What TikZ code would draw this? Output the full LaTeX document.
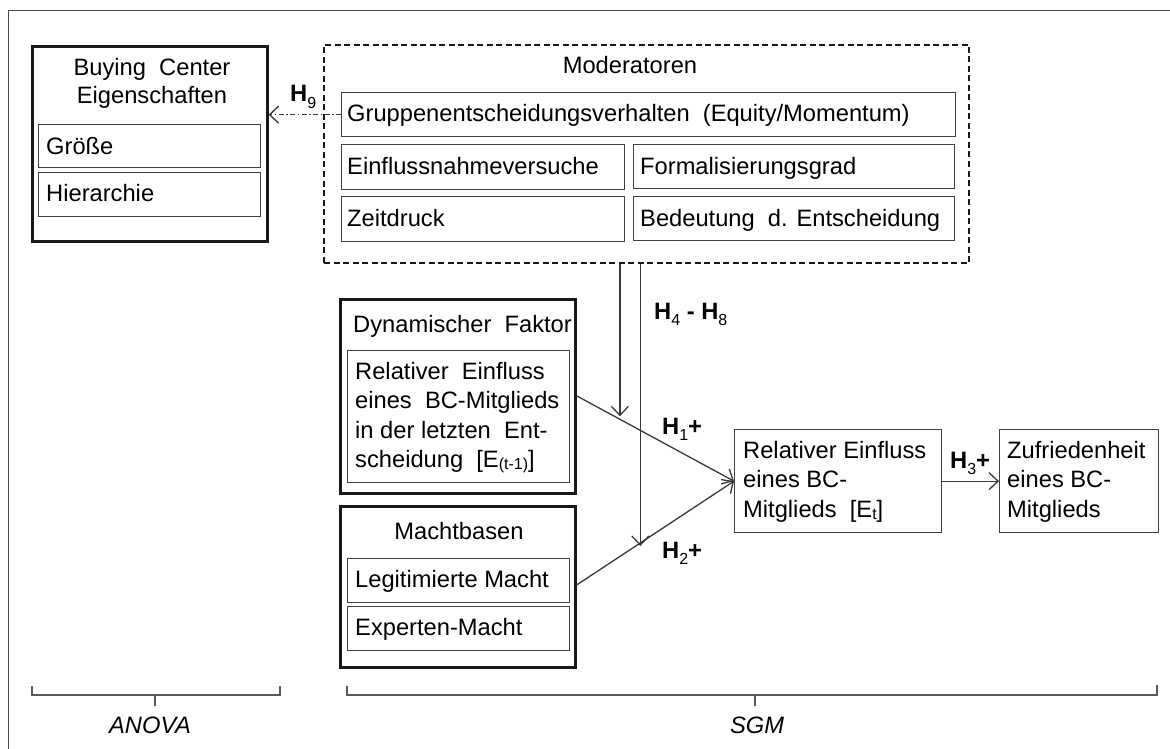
\documentclass[tikz,border=0pt]{standalone}
\usepackage{fontspec}
\setmainfont{Liberation Sans}
\usetikzlibrary{arrows.meta,calc}

\newcommand\subidx[1]{\raisebox{-0.26em}{\fontsize{16}{16}\selectfont\mdseries #1}}
\newcommand\smallidx[1]{\raisebox{-0.12em}{\fontsize{16}{16}\selectfont #1}}

\tikzset{
  every node/.style={font=\fontsize{23.7}{28}\selectfont, text=black},
  outerbox/.style={draw=black!90, line width=2.6pt, inner sep=0pt, anchor=north west},
  innerbox/.style={draw=black!75, line width=1.3pt, inner sep=0pt, anchor=north west},
  modbox/.style={draw=black!90, line width=2pt, dash pattern=on 6pt off 3.5pt, inner sep=0pt, anchor=north west},
  txt/.style={anchor=base west, inner sep=0pt},
  ctxt/.style={anchor=base, inner sep=0pt},
  lbl/.style={anchor=base west, inner sep=0pt, font=\fontsize{23.7}{28}\selectfont\bfseries},
  conn/.style={draw=black!78, line width=1.3pt, -{Straight Barb[length=9pt,width=17pt,line width=1.3pt]}},
  bracket/.style={draw=black!65, line width=1.4pt},
  axis/.style={anchor=base, inner sep=0pt, font=\fontsize{23.7}{28}\selectfont\itshape},
}

\begin{document}
\begin{tikzpicture}[x=1pt,y=-1pt]
\useasboundingbox (0,0) rectangle (1170,749);

% outer frame
\draw[black!70, line width=1pt] (8,749) -- (8,11) -- (1170,11);

% Buying Center characteristics
\node[outerbox, minimum width=235pt, minimum height=195pt] (bc) at (31,45) {};
\node[ctxt] (bct1) at (152,76) {Buying\ \ Center};
\node[ctxt] (bct2) at (152,104) {Eigenschaften};
\node[innerbox, minimum width=222pt, minimum height=43pt] (groesse) at (38,124) {};
\node[txt] at (46,154) {Größe};
\node[innerbox, minimum width=222pt, minimum height=44pt] (hier) at (38,172) {};
\node[txt] at (46,201) {Hierarchie};

% moderators
\node[modbox, minimum width=645pt, minimum height=218pt] (mod) at (323,44) {};
\node[ctxt] at (630,74) {Moderatoren};
\node[innerbox, minimum width=614pt, minimum height=44pt] (grp) at (341,92) {};
\node[txt] at (347,122) {Gruppenentscheidungsverhalten\ \ (Equity/Momentum)};
\node[innerbox, minimum width=283pt, minimum height=45pt] (einfl) at (341,144) {};
\node[txt] at (347,174.5) {Einflussnahmeversuche};
\node[innerbox, minimum width=321pt, minimum height=44pt] (formal) at (633,144) {};
\node[txt] at (640,174.5) {Formalisierungsgrad};
\node[innerbox, minimum width=283pt, minimum height=45pt] (zeit) at (341,196) {};
\node[txt] at (347,226.5) {Zeitdruck};
\node[innerbox, minimum width=321pt, minimum height=44pt] (bedeut) at (633,196) {};
\node[txt] at (640,226.5) {Bedeutung\ \ d. Entscheidung};

% dynamic factor
\node[outerbox, minimum width=235pt, minimum height=194pt] (dyn) at (339,298) {};
\node[txt] at (353,332) {Dynamischer\ \ Faktor};
\node[innerbox, minimum width=222pt, minimum height=132pt] (dyninner) at (347,350) {};
\node[txt] at (355,379) {Relativer\ \ Einfluss};
\node[txt] at (355,408) {eines\ \ BC-Mitglieds};
\node[txt] at (355,438) {in der letzten\ \ Ent-};
\node[txt] at (355,467) {scheidung\ \ [E\smallidx{(t-1)}]};

% power bases
\node[outerbox, minimum width=235pt, minimum height=161pt] (macht) at (339,505) {};
\node[ctxt] at (459,539) {Machtbasen};
\node[innerbox, minimum width=222pt, minimum height=44pt] (legit) at (347,558) {};
\node[txt] at (355,587) {Legitimierte Macht};
\node[innerbox, minimum width=222pt, minimum height=44pt] (exp) at (347,606) {};
\node[txt] at (355,635) {Experten-Macht};

% outcome boxes
\node[innerbox, minimum width=207pt, minimum height=103pt] (rel) at (734,429) {};
\node[txt] at (743,458) {Relativer Einfluss};
\node[txt] at (743,487) {eines BC-};
\node[txt] at (743,517) {Mitglieds\ \ [E\smallidx{t}]};
\node[innerbox, minimum width=159pt, minimum height=103pt] (zuf) at (999,429) {};
\node[txt] at (1007,458) {Zufriedenheit};
\node[txt] at (1007,487) {eines BC-};
\node[txt] at (1007,517) {Mitglieds};

% hypothesis labels
\node[lbl] (h9) at (290,102) {H\subidx{9}};
\node[lbl] (h48) at (654,319) {H\subidx{4} - H\subidx{8}};
\node[lbl] (h1) at (662,434) {H\subidx{1}+};
\node[lbl] (h2) at (662,558) {H\subidx{2}+};
\node[lbl] (h3) at (950,468) {H\subidx{3}+};

% connectors
\coordinate (h1s) at ($(dyn.east)+(0,-0.5)$);
\coordinate (h2s) at ($(macht.north east)+(0,80)$);
\draw[conn, dash pattern=on 5pt off 2.5pt on 1.5pt off 2.5pt] (grp.west) -- (bc.east |- grp.west);
\draw[conn] (h1s) -- (rel.west);
\draw[conn] (h2s) -- (rel.west);
\draw[conn] (rel.east) -- (zuf.west);
\coordinate (m1) at ($(h1s)!0.275!(rel.west)$);
\coordinate (m2) at ($(h2s)!0.405!(rel.west)$);
\draw[conn, shorten >=3pt] (mod.south -| m1) -- (m1);
\draw[conn] (mod.south -| m2) -- ($(m2)+(0,3)$);

% method brackets
\draw[bracket] (32,686) -- (32,695) -- (280,695) -- (280,686);
\draw[bracket] (155,695) -- (155,706);
\node[axis] at (150,733) {ANOVA};
\draw[bracket] (347,686) -- (347,695) -- (1157,695) -- (1157,685);
\draw[bracket] (755,695) -- (755,706);
\node[axis] at (757,733) {SGM};
\end{tikzpicture}
\end{document}
